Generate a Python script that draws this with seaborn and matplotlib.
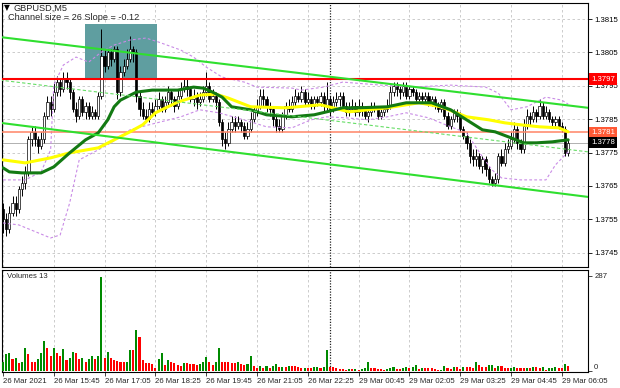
import numpy as np
import pandas as pd
import matplotlib
matplotlib.use("Agg")
import matplotlib.pyplot as plt
import matplotlib.transforms as mtransforms
from matplotlib.patches import Rectangle
import seaborn as sns

# ---------------- data ----------------
first_open = 1.3758
closes = [
    1.3755, 1.3752, 1.3757, 1.3760, 1.3758, 1.3764, 1.3766, 1.3769, 1.3779, 1.3781,
    1.3779, 1.3777, 1.3779, 1.3786, 1.3790, 1.3788, 1.3793, 1.3796, 1.3794, 1.3797,
    1.3796, 1.3793, 1.3788, 1.3786, 1.3791, 1.3787, 1.3789, 1.3786, 1.3787, 1.3786,
    1.3792, 1.3804, 1.3801, 1.3805, 1.3803, 1.3806, 1.3793, 1.3799, 1.3801, 1.3803,
    1.3806, 1.3805, 1.3792, 1.3788, 1.3786, 1.3785, 1.3788, 1.3787, 1.3789, 1.3791,
    1.3788, 1.3790, 1.3793, 1.3791, 1.3789, 1.3792, 1.3794, 1.3795, 1.3794, 1.3791,
    1.3792, 1.3790, 1.3791, 1.3793, 1.3795, 1.3791, 1.3792, 1.3790, 1.3784, 1.3779,
    1.3778, 1.3782, 1.3784, 1.3783, 1.3784, 1.3783, 1.3780, 1.3782, 1.3785, 1.3787,
    1.3789, 1.3792, 1.3791, 1.3789, 1.3788, 1.3785, 1.3783, 1.3782, 1.3786, 1.3789,
    1.3788, 1.3790, 1.3792, 1.3791, 1.3793, 1.3790, 1.3791, 1.3789, 1.3791, 1.3790,
    1.3792, 1.3789, 1.3791, 1.3788, 1.3790, 1.3791, 1.3792, 1.3789, 1.3787, 1.3788,
    1.3789, 1.3787, 1.3789, 1.3788, 1.3786, 1.3787, 1.3789, 1.3788, 1.3786, 1.3787,
    1.3788, 1.3789, 1.3793, 1.3795, 1.3794, 1.3793, 1.3795, 1.3792, 1.3794, 1.3793,
    1.3791, 1.3792, 1.3791, 1.3792, 1.3790, 1.3791, 1.3789, 1.3788, 1.3790, 1.3786,
    1.3783, 1.3785, 1.3787, 1.3786, 1.3782, 1.3780, 1.3778, 1.3774, 1.3773, 1.3774,
    1.3771, 1.3773, 1.3770, 1.3767, 1.3766, 1.3767, 1.3774, 1.3772, 1.3776, 1.3777,
    1.3779, 1.3782, 1.3778, 1.3776, 1.3783, 1.3786, 1.3785, 1.3787, 1.3786, 1.3789,
    1.3786, 1.3787, 1.3785, 1.3784, 1.3785, 1.3783, 1.3782, 1.3775, 1.3778,
]
highs = [
    1.3760, 1.3757, 1.3759, 1.3762, 1.3762, 1.3765, 1.3768, 1.3771, 1.3780, 1.3783,
    1.3783, 1.3780, 1.3781, 1.3787, 1.3792, 1.3792, 1.3796, 1.3798, 1.3797, 1.3799,
    1.3799, 1.3797, 1.3794, 1.3790, 1.3792, 1.3792, 1.3790, 1.3790, 1.3789, 1.3788,
    1.3793, 1.3812, 1.3806, 1.3806, 1.3806, 1.3807, 1.3807, 1.3801, 1.3803, 1.3806,
    1.3810, 1.3807, 1.3806, 1.3793, 1.3790, 1.3788, 1.3790, 1.3790, 1.3791, 1.3793,
    1.3792, 1.3792, 1.3795, 1.3794, 1.3792, 1.3794, 1.3796, 1.3797, 1.3797, 1.3795,
    1.3794, 1.3793, 1.3793, 1.3795, 1.3799, 1.3796, 1.3794, 1.3793, 1.3791, 1.3785,
    1.3781, 1.3784, 1.3786, 1.3786, 1.3786, 1.3785, 1.3784, 1.3784, 1.3787, 1.3789,
    1.3791, 1.3794, 1.3794, 1.3792, 1.3790, 1.3789, 1.3786, 1.3785, 1.3787, 1.3790,
    1.3791, 1.3792, 1.3794, 1.3793, 1.3795, 1.3794, 1.3793, 1.3792, 1.3792, 1.3792,
    1.3793, 1.3793, 1.3796, 1.3792, 1.3792, 1.3793, 1.3793, 1.3793, 1.3790, 1.3790,
    1.3791, 1.3790, 1.3791, 1.3790, 1.3789, 1.3789, 1.3790, 1.3790, 1.3789, 1.3788,
    1.3789, 1.3791, 1.3795, 1.3796, 1.3796, 1.3795, 1.3796, 1.3796, 1.3795, 1.3795,
    1.3794, 1.3793, 1.3793, 1.3793, 1.3793, 1.3792, 1.3792, 1.3790, 1.3791, 1.3791,
    1.3787, 1.3786, 1.3788, 1.3788, 1.3787, 1.3783, 1.3781, 1.3779, 1.3776, 1.3776,
    1.3775, 1.3774, 1.3774, 1.3771, 1.3768, 1.3769, 1.3775, 1.3776, 1.3778, 1.3779,
    1.3781, 1.3784, 1.3783, 1.3779, 1.3785, 1.3788, 1.3787, 1.3789, 1.3788, 1.3791,
    1.3790, 1.3789, 1.3788, 1.3786, 1.3786, 1.3786, 1.3784, 1.3783, 1.3779,
]
lows = [
    1.3751, 1.3750, 1.3751, 1.3756, 1.3756, 1.3757, 1.3762, 1.3764, 1.3768, 1.3777,
    1.3777, 1.3775, 1.3776, 1.3778, 1.3785, 1.3786, 1.3787, 1.3792, 1.3792, 1.3793,
    1.3794, 1.3791, 1.3787, 1.3784, 1.3785, 1.3786, 1.3785, 1.3785, 1.3785, 1.3785,
    1.3785, 1.3791, 1.3799, 1.3800, 1.3801, 1.3802, 1.3791, 1.3792, 1.3798, 1.3800,
    1.3802, 1.3802, 1.3790, 1.3786, 1.3785, 1.3784, 1.3784, 1.3786, 1.3786, 1.3788,
    1.3787, 1.3787, 1.3789, 1.3789, 1.3787, 1.3788, 1.3791, 1.3793, 1.3792, 1.3790,
    1.3789, 1.3788, 1.3789, 1.3790, 1.3792, 1.3790, 1.3790, 1.3788, 1.3783, 1.3777,
    1.3776, 1.3777, 1.3781, 1.3781, 1.3782, 1.3781, 1.3779, 1.3779, 1.3781, 1.3784,
    1.3786, 1.3788, 1.3789, 1.3787, 1.3786, 1.3783, 1.3781, 1.3781, 1.3781, 1.3785,
    1.3787, 1.3787, 1.3789, 1.3790, 1.3790, 1.3789, 1.3789, 1.3788, 1.3788, 1.3789,
    1.3789, 1.3787, 1.3787, 1.3786, 1.3787, 1.3789, 1.3789, 1.3788, 1.3786, 1.3786,
    1.3787, 1.3786, 1.3786, 1.3786, 1.3785, 1.3784, 1.3786, 1.3787, 1.3785, 1.3785,
    1.3786, 1.3787, 1.3788, 1.3792, 1.3792, 1.3791, 1.3792, 1.3791, 1.3791, 1.3792,
    1.3790, 1.3790, 1.3790, 1.3790, 1.3789, 1.3789, 1.3788, 1.3787, 1.3787, 1.3785,
    1.3782, 1.3782, 1.3784, 1.3784, 1.3781, 1.3779, 1.3776, 1.3772, 1.3771, 1.3771,
    1.3770, 1.3769, 1.3768, 1.3766, 1.3765, 1.3765, 1.3766, 1.3771, 1.3771, 1.3775,
    1.3776, 1.3778, 1.3776, 1.3775, 1.3775, 1.3782, 1.3783, 1.3784, 1.3784, 1.3785,
    1.3785, 1.3785, 1.3784, 1.3783, 1.3783, 1.3782, 1.3781, 1.3774, 1.3774,
]
volumes = [
    28, 50, 55, 36, 40, 23, 26, 68, 50, 26,
    26, 37, 54, 90, 68, 45, 70, 54, 44, 65,
    33, 40, 56, 54, 36, 39, 26, 36, 44, 36,
    46, 285, 40, 56, 39, 34, 30, 27, 27, 28,
    63, 63, 123, 104, 33, 25, 25, 20, 10, 36,
    53, 18, 33, 27, 25, 17, 15, 25, 23, 21,
    20, 19, 21, 26, 43, 26, 18, 26, 68, 27,
    27, 26, 25, 23, 26, 21, 19, 20, 45, 15,
    8, 16, 9, 15, 8, 15, 20, 11, 13, 11,
    16, 16, 16, 11, 8, 9, 9, 8, 11, 13,
    9, 11, 63, 11, 11, 10, 7, 5, 4, 5,
    5, 6, 3, 7, 10, 26, 10, 10, 5, 5,
    4, 7, 10, 13, 6, 6, 8, 11, 8, 11,
    18, 5, 9, 9, 9, 8, 5, 3, 4, 15,
    9, 7, 11, 11, 7, 11, 11, 11, 9, 26,
    17, 13, 13, 17, 19, 8, 16, 14, 10, 8,
    10, 12, 10, 9, 9, 10, 10, 11, 11, 8,
    13, 4, 8, 9, 13, 10, 10, 21, 15,
]

time_labels = ["26 Mar 2021", "26 Mar 15:45", "26 Mar 17:05", "26 Mar 18:25",
               "26 Mar 19:45", "26 Mar 21:05", "26 Mar 22:25", "29 Mar 00:45",
               "29 Mar 02:05", "29 Mar 03:25", "29 Mar 04:45", "29 Mar 06:05"]
label_bars = [0, 16, 32, 48, 64, 80, 96, 112, 128, 144, 160, 176]
price_ticks = [1.3745, 1.3755, 1.3765, 1.3775, 1.3785, 1.3795, 1.3805, 1.3815]
day_separator_bar = 103

# moving averages (sampled along the drawn curves)
ma_fast_bars = [0, 2, 6, 12, 16, 21, 26, 30, 33, 35, 37, 42, 47, 55, 60, 63, 66, 69,
                72, 78, 83, 91, 98, 102, 107, 112, 121, 127, 135, 141, 146, 151, 155,
                160, 164, 168, 173, 178]
ma_fast_vals = [1.37704, 1.37692, 1.37689, 1.37689, 1.37707, 1.37749, 1.37788, 1.37809,
                1.37848, 1.37887, 1.37907, 1.37931, 1.37937, 1.37937, 1.37946, 1.37943,
                1.37931, 1.37916, 1.37887, 1.37878, 1.37863, 1.37857, 1.37863, 1.37872,
                1.37884, 1.37884, 1.37887, 1.37899, 1.37899, 1.37878, 1.37848, 1.37818,
                1.37812, 1.37794, 1.37779, 1.37779, 1.37782, 1.37788]
ma_slow_bars = [0, 7, 15, 21, 30, 35, 40, 44, 48, 55, 62, 67, 71, 78, 89, 100, 109, 121,
                131, 138, 146, 153, 158, 163, 169, 175, 178]
ma_slow_vals = [1.37728, 1.37719, 1.37734, 1.37749, 1.37764, 1.37788, 1.37812, 1.37833,
                1.37869, 1.37901, 1.37922, 1.37925, 1.37913, 1.37887, 1.37884, 1.37893,
                1.37872, 1.37884, 1.37899, 1.37887, 1.37857, 1.37848, 1.37839, 1.37833,
                1.37827, 1.37824, 1.37812]
band_up_bars = [0, 7, 12, 15, 16, 19, 23, 27, 31, 35, 40, 45, 49, 56, 60, 64, 69, 76,
                80, 91, 94, 101, 107, 119, 129, 141, 152, 156, 160, 165, 171, 176, 178]
band_up_vals = [1.37668, 1.37668, 1.37692, 1.37758, 1.37952, 1.38012, 1.38036, 1.38021,
                1.38051, 1.38072, 1.38087, 1.38093, 1.38081, 1.38057, 1.38036, 1.38006,
                1.37976, 1.37961, 1.37946, 1.37943, 1.37937, 1.37946, 1.37961, 1.37952,
                1.37946, 1.37952, 1.37946, 1.37928, 1.37878, 1.37887, 1.37916, 1.37907,
                1.37895]
band_lo_bars = [0, 5, 15, 18, 21, 24, 30, 34, 40, 46, 56, 62, 68, 78, 83, 91, 97, 102,
                108, 115, 121, 127, 134, 141, 146, 151, 154, 157, 163, 171, 174, 178]
band_lo_vals = [1.37539, 1.37533, 1.37494, 1.37503, 1.37599, 1.37728, 1.37758, 1.37779,
                1.37818, 1.37833, 1.37857, 1.37878, 1.37869, 1.37842, 1.37827, 1.37824,
                1.37848, 1.37857, 1.37854, 1.37848, 1.37857, 1.37869, 1.37854, 1.37827,
                1.37809, 1.37737, 1.37698, 1.37674, 1.37668, 1.37668, 1.37713, 1.37752]

channel_bars = [-0.94, 184.25]
channel_upper = [1.38096, 1.37884]
channel_mid = [1.37967, 1.37752]
channel_lower = [1.37839, 1.37617]
level_resist = 1.3797
level_support = 1.3781
last_price = 1.3778
zone_bars = [25.8, 48.5]
zone_prices = [1.3797, 1.38135]

# ---------------- styling ----------------
sns.set_theme(style="white")
plt.rcParams['font.family'] = ['Liberation Sans', 'DejaVu Sans']
FS = 5.6
HFS = 6.6

n = len(closes)
idx = np.arange(n)
c = np.array(closes)
o = np.r_[first_open, c[:-1]]
h = np.maximum(np.array(highs[:n]), np.maximum(o, c))
l = np.minimum(np.array(lows[:n]), np.minimum(o, c))
vol = np.array((volumes + [0] * n)[:n])

fig = plt.figure(figsize=(6.2, 3.88), dpi=100)
fig.patch.set_facecolor("white")
ax = fig.add_axes([2 / 620, 121 / 388, 586 / 620, 264 / 388])
axv = fig.add_axes([2 / 620, 16 / 388, 586 / 620, 102 / 388])
XL = (-0.315, 184.25)
for a in (ax, axv):
    a.set_xlim(*XL)
    a.set_facecolor("white")
    for s in a.spines.values():
        s.set_color("black")
        s.set_linewidth(0.8)
ax.set_ylim(1.37407, 1.38198)
axv.set_ylim(-3, 305)

grid_kw = dict(color="#c4c4c4", lw=0.6, ls=(0, (3, 3)), zorder=0)
for b in label_bars:
    ax.axvline(b, **grid_kw)
    axv.axvline(b, **grid_kw)
for p in price_ticks:
    ax.axhline(p, **grid_kw)
sep_kw = dict(color="#222222", lw=0.9, ls=(0, (1, 1.2)), zorder=0.5)
ax.axvline(day_separator_bar, **sep_kw)
axv.axvline(day_separator_bar, **sep_kw)

# zone rectangle
ax.add_patch(Rectangle((zone_bars[0], zone_prices[0]), zone_bars[1] - zone_bars[0],
                       zone_prices[1] - zone_prices[0], facecolor="#5f9ea0",
                       edgecolor="none", zorder=1))

# candles
up = c >= o
ax.vlines(idx, l, h, color="black", lw=0.7, zorder=3)
ax.bar(idx[up], (c - o)[up], bottom=o[up], width=0.7, facecolor="white",
       edgecolor="black", lw=0.5, zorder=4)
ax.bar(idx[~up], (o - c)[~up], bottom=c[~up], width=0.7, facecolor="black",
       edgecolor="black", lw=0.5, zorder=4)

# bands
for bx, bv in ((band_up_bars, band_up_vals), (band_lo_bars, band_lo_vals)):
    sns.lineplot(x=bx, y=bv, ax=ax, color="#c98be6", lw=0.8, linestyle=(0, (2.5, 2)),
                 estimator=None, sort=False, zorder=5)

# horizontal levels
ax.axhline(last_price, color="#b0b0b0", lw=0.7, zorder=2)
ax.axhline(level_support, color="#ff8466", lw=1.1, zorder=6)
ax.axhline(level_resist, color="#ff0000", lw=1.5, zorder=6)

# moving averages
sns.lineplot(x=ma_slow_bars, y=ma_slow_vals, ax=ax, color="#ffff00", lw=2.2,
             estimator=None, sort=False, zorder=6)
sns.lineplot(x=ma_fast_bars, y=ma_fast_vals, ax=ax, color="#137a13", lw=2.2,
             estimator=None, sort=False, zorder=7)

# regression channel
sns.lineplot(x=channel_bars, y=channel_mid, ax=ax, color="#66dd66", lw=0.8,
             linestyle=(0, (3, 2)), estimator=None, sort=False, zorder=7)
for cv in (channel_upper, channel_lower):
    sns.lineplot(x=channel_bars, y=cv, ax=ax, color="#2fdf2f", lw=1.5,
                 estimator=None, sort=False, zorder=8)

# volumes
prev = np.r_[-1, vol[:-1]]
vcol = np.where(vol > prev, "#008a00", "#ff0000")
axv.bar(idx, vol, width=0.65, color=vcol, bottom=0, zorder=3, linewidth=0)

# axes / ticks
ax.yaxis.tick_right()
ax.set_yticks(price_ticks)
ax.set_yticklabels([f"{p:.4f}" for p in price_ticks])
ax.tick_params(axis="y", labelsize=FS, length=3, width=0.6, pad=1.5, colors="black",
               direction="out", right=True)
ax.tick_params(axis="x", bottom=False, labelbottom=False)
ax.set_xlabel("")
ax.set_ylabel("")

axv.yaxis.tick_right()
axv.set_yticks([0, 287])
axv.set_yticklabels(["0", "287"])
axv.tick_params(axis="y", labelsize=FS, length=3, width=0.6, pad=1.5, direction="out", right=True)
for t in axv.get_yticklabels():
    if t.get_text() == "0":
        t.set_verticalalignment("bottom")
axv.set_xticks(label_bars)
axv.set_xticklabels(time_labels)
axv.tick_params(axis="x", labelsize=FS, length=3, width=0.6, pad=1.5, direction="out", bottom=True)
for t in axv.get_xticklabels():
    t.set_horizontalalignment("left")
axv.set_xlabel("")
axv.set_ylabel("")

# price label boxes on the right
blend = mtransforms.blended_transform_factory(ax.transAxes, ax.transData)
for p, fc in ((level_resist, "#ff0000"), (level_support, "#ff5a36"), (last_price, "#000000")):
    ax.text(1.0 + 3 / 586, p, f"{p:.4f}", transform=blend, ha="left", va="center",
            fontsize=FS, color="white", clip_on=False, zorder=20,
            bbox=dict(boxstyle="square,pad=0.3", fc=fc, ec="none"))

# header texts
fig.text(4 / 620, 1 - 8 / 388, "▼", fontsize=5.5, va="center", ha="left",
         family=["DejaVu Sans"], color="black")
fig.text(13 / 620, 1 - 8 / 388, "GBPUSD,M5", fontsize=HFS, va="center", ha="left")
fig.text(8 / 620, 1 - 18 / 388, "Channel size = 26 Slope = -0.12", fontsize=HFS,
         va="center", ha="left")
fig.text(7 / 620, 1 - 277 / 388, "Volumes 13", fontsize=FS, va="center", ha="left")

fig.savefig("out.png", dpi=100, facecolor="white")
